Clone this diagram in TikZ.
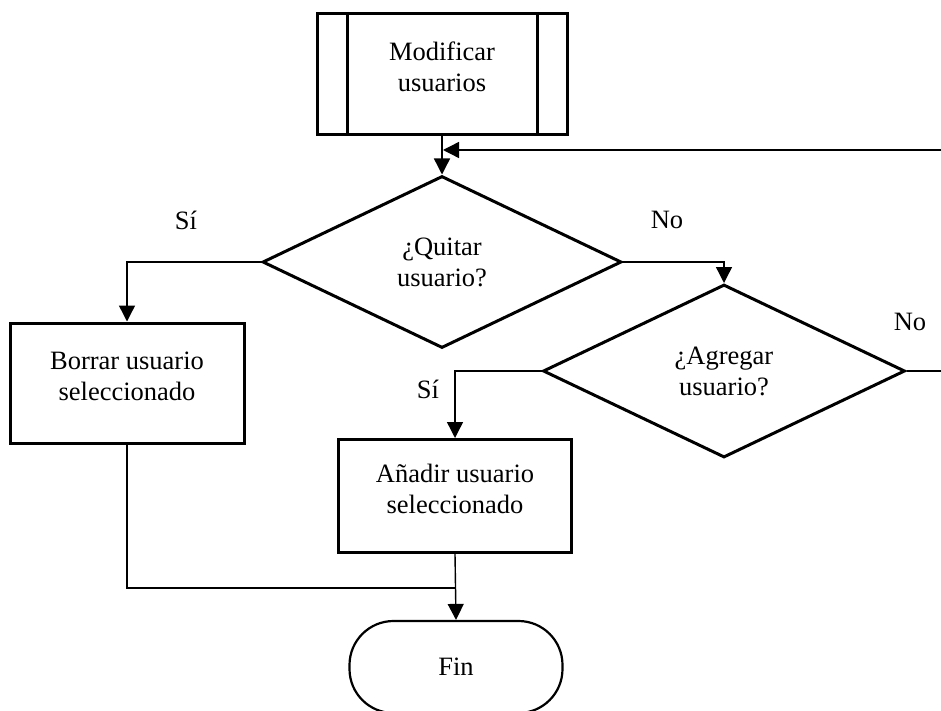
\documentclass[tikz,border=0pt]{standalone}
\usepackage{fontspec}
\setmainfont{Liberation Serif}
\usetikzlibrary{shapes.geometric,arrows.meta,calc}

\begin{document}
\begin{tikzpicture}[x=1pt,y=-1pt,
  every node/.style={font=\fontsize{26.5}{31}\selectfont, align=center},
  box/.style={draw, line width=3pt, rectangle, inner sep=0pt, text depth=14pt},
  decision/.style={draw, line width=3pt, diamond, aspect=2, inner sep=0pt},
  terminal/.style={draw, line width=2.2pt, rectangle, rounded corners=44pt, inner sep=0pt},
  flow/.style={line width=1.4pt, -{Triangle[length=16pt,width=16pt]}},
  plain/.style={line width=1.4pt},
  tag/.style={inner sep=0pt}]

\useasboundingbox (0,0) rectangle (941,711);
\clip (0,0) rectangle (941,711);

% subprocess block
\node[box, minimum width=250pt, minimum height=121pt] (start) at (442,74) {Modificar\\usuarios};
\draw[line width=3pt] ($(start.north west)+(32,0)$) -- ($(start.south west)+(32,0)$);
\draw[line width=3pt] ($(start.north east)+(-31,0)$) -- ($(start.south east)+(-31,0)$);

% decisions
\node[decision, minimum width=359pt, minimum height=172pt] (quitar) at (442,262) {¿Quitar\\usuario?};
\node[decision, minimum width=362pt, minimum height=173pt] (agregar) at (724,371) {¿Agregar\\usuario?};

% actions
\node[box, minimum width=234pt, minimum height=120pt] (borrar) at (127,383) {Borrar usuario\\seleccionado};
\node[box, minimum width=233pt, minimum height=113pt] (anadir) at (455,496) {Añadir usuario\\seleccionado};

% end
\node[terminal, minimum width=213pt, minimum height=92pt] (fin) at (456,667) {Fin};

% loop-back ends at the right margin
\coordinate (loopin) at (941,150);
\coordinate (loopout) at (941,371);
\coordinate (merge) at (456,588);

% connectors
\draw[flow] (start.south) -- (quitar.north);
\draw[flow] (loopin) -- ($(start.south |- loopin)+(1,0)$);
\draw[flow] (quitar.west) -| (borrar.north);
\draw[flow] (quitar.east) -| (agregar.north);
\draw[flow] (agregar.west) -| (anadir.north);
\draw[plain] (agregar.east) -- (loopout);
\draw[plain] (borrar.south) |- (merge);
\draw[flow] (anadir.south) -- (fin.north);

% branch labels
\node[tag] (si1) at (186,220) {Sí};
\node[tag] (no1) at (667,220) {No};
\node[tag] (no2) at (910,322) {No};
\node[tag] (si2) at (428,389) {Sí};

\end{tikzpicture}
\end{document}
